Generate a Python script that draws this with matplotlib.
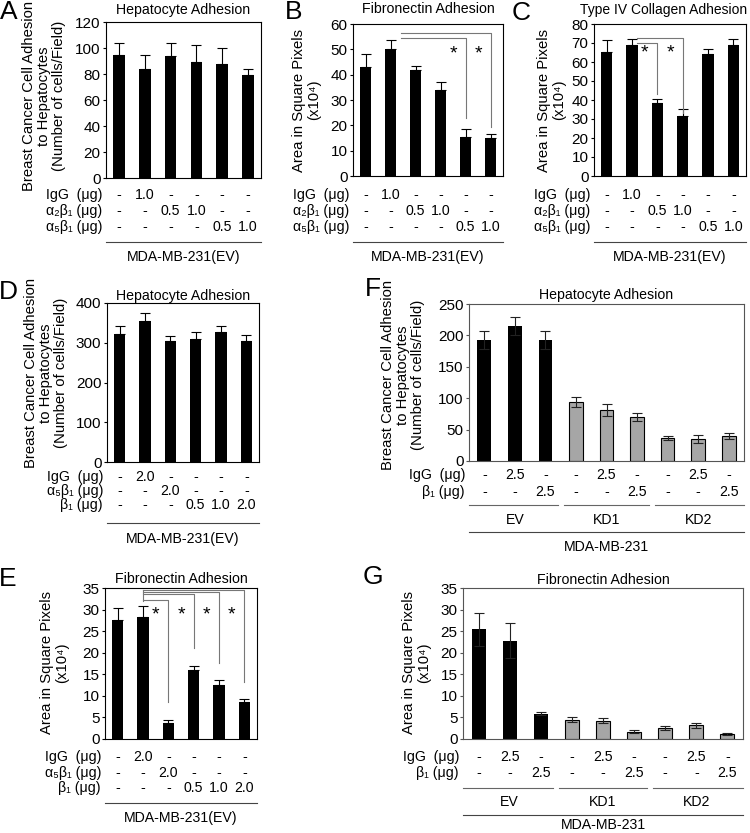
import numpy as np
import matplotlib
matplotlib.use('Agg')
import matplotlib.pyplot as plt
import matplotlib.transforms as mtrans
from matplotlib.lines import Line2D

plt.rcParams['font.family'] = ['Liberation Sans', 'DejaVu Sans']
FS = 10.2
W, H = 750, 833

# ---------------- data ----------------
# Panel A
a_vals = [95, 84, 94, 89, 88, 79]
a_err = [9, 11, 10, 13, 12, 5]
a_rows = ['IgG  (μg)', 'α₂β₁ (μg)', 'α₅β₁ (μg)']
a_igg = ['-', '1.0', '-', '-', '-', '-']
a_a2b1 = ['-', '-', '0.5', '1.0', '-', '-']
a_a5b1 = ['-', '-', '-', '-', '0.5', '1.0']

# Panel B
b_vals = [43, 50, 42, 34, 15.5, 15]
b_err = [5, 3.5, 1.5, 3, 3, 1.5]
b_sig = [(1, 4, 54.3, 23.0), (1, 5, 56.3, 19.4)]   # (from bar, to bar, level, end)
b_stars = [3.5, 4.5]

# Panel C
c_vals = [65.5, 69, 38.5, 31.5, 64, 69]
c_err = [6, 3, 2, 4, 3, 3]
c_sig = [(1, 2, 69.8, 43.0), (1, 3, 72.8, 33.0)]
c_stars = [1.5, 2.5]

# Panel D
d_vals = [322, 355, 305, 310, 328, 305]
d_err = [20, 20, 13, 16, 15, 15]
de_rows = ['IgG  (μg)', 'α₅β₁ (μg)', 'β₁ (μg)']
d_igg = ['-', '2.0', '-', '-', '-', '-']
d_a5b1 = ['-', '-', '2.0', '-', '-', '-']
d_b1 = ['-', '-', '-', '0.5', '1.0', '2.0']

# Panel E
e_vals = [27.5, 28.3, 3.8, 15.9, 12.5, 8.5]
e_err = [2.8, 2.5, 0.5, 1.1, 1.1, 0.7]
e_sig = [(1, 2, 32.2, 8.5), (1, 3, 33.5, 21.0), (1, 4, 34.0, 17.6), (1, 5, 34.6, 13.2)]
e_stars = [1.5, 2.5, 3.5, 4.5]

# Panel F
f_vals = [193, 215, 193, 94, 81, 70, 37, 35, 40]
f_err = [14, 15, 14, 8, 9, 7, 3, 6, 5]
fg_rows = ['IgG  (μg)', 'β₁ (μg)']
fg_igg = ['-', '2.5', '-'] * 3
fg_b1 = ['-', '-', '2.5'] * 3
fg_groups = ['EV', 'KD1', 'KD2']

# Panel G
g_vals = [25.4, 22.8, 5.9, 4.5, 4.2, 1.7, 2.6, 3.2, 1.1]
g_err = [3.8, 4.1, 0.4, 0.5, 0.6, 0.3, 0.5, 0.6, 0.2]

bar_colors_fg = ['black'] * 3 + ['#a6a6a6'] * 6

ylab_hep = 'Breast Cancer Cell Adhesion\nto Hepatocytes\n(Number of cells/Field)'
ylab_area = 'Area in Square Pixels\n(x10⁴)'

fig = plt.figure(figsize=(W / 100, H / 100), dpi=100)


def fy(y):
    return 1 - y / H


def panel(box, vals, errs, ylim, ystep, colors=None, twosided=False, spine='black'):
    l, t, r, b = box
    ax = fig.add_axes([l / W, 1 - b / H, (r - l) / W, (b - t) / H])
    n = len(vals)
    x = np.arange(n)
    if colors is None:
        colors = ['black'] * n
    edges = ['black' if c != 'black' else 'none' for c in colors]
    ax.bar(x, vals, width=0.45, color=colors, edgecolor=edges, linewidth=0.8, zorder=2)
    if twosided:
        ax.errorbar(x, vals, yerr=errs, fmt='none', ecolor='#222222', elinewidth=0.8,
                    capsize=3.5, capthick=0.8, zorder=3)
    else:
        ax.errorbar(x, vals, yerr=[np.zeros(n), errs], fmt='none', ecolor='black',
                    elinewidth=0.8, capsize=3.5, capthick=0.8, zorder=1)
    ax.set_xlim(-0.5, n - 0.5)
    ax.set_ylim(*ylim)
    ax.set_yticks(np.arange(ylim[0], ylim[1] + ystep / 2, ystep))
    ax.set_xticks([])
    ax.tick_params(axis='y', labelsize=FS + 0.8, length=2, pad=2, width=0.8, color=spine)
    for s in ax.spines.values():
        s.set_color(spine)
        s.set_linewidth(0.8)
    return ax


def rows(ax, box, labels, values, ys):
    l = box[0]
    tr = mtrans.blended_transform_factory(ax.transData, fig.transFigure)
    for lab, vals, y in zip(labels, values, ys):
        fig.text((l - 4) / W, fy(y), lab, ha='right', va='center', fontsize=FS)
        for i, v in enumerate(vals):
            ax.text(i, fy(y), v, transform=tr, ha='center', va='center', fontsize=FS)


def hline(x0, x1, y, color='#444444'):
    fig.add_artist(Line2D([x0 / W, x1 / W], [fy(y), fy(y)], color=color, lw=0.8))


def brackets(ax, sig, stars, ystar, start_off=0.4):
    for (i0, i1, lev, end) in sig:
        ax.plot([i0 + start_off, i1, i1], [lev, lev, end], color='#777777', lw=0.8, zorder=4)
    for s in stars:
        ax.text(s, ystar, '*', ha='center', va='center', fontsize=14, zorder=5)


def title(x, y, s, fs=FS):
    fig.text(x / W, fy(y), s, ha='center', va='center', fontsize=fs)


def ylabel(x, y, s):
    fig.text(x / W, fy(y), s, rotation=90, ha='center', va='center',
             multialignment='center', fontsize=FS + 0.5, linespacing=1.1)


def letter(x, y, s):
    fig.text(x / W, fy(y), s, ha='center', va='center', fontsize=19)


def group_label(box, y, s):
    fig.text((box[0] + box[2]) / 2 / W, fy(y), s, ha='center', va='center', fontsize=FS)


# ---------------- Panel A ----------------
boxA = (106, 22, 261, 178)
axA = panel(boxA, a_vals, a_err, (0, 120), 20)
rows(axA, boxA, a_rows, [a_igg, a_a2b1, a_a5b1], [195, 211, 227])
hline(boxA[0], boxA[2], 242)
group_label(boxA, 257, 'MDA-MB-231(EV)')
title(183, 10, 'Hepatocyte Adhesion')
ylabel(44, 96, ylab_hep)
letter(9, 12, 'A')

# ---------------- Panel B ----------------
boxB = (353, 24, 503, 176)
axB = panel(boxB, b_vals, b_err, (0, 60), 10)
brackets(axB, b_sig, b_stars, 48.0)
rows(axB, boxB, a_rows, [a_igg, a_a2b1, a_a5b1], [195, 211, 227])
hline(boxB[0], boxB[2], 242)
group_label(boxB, 257, 'MDA-MB-231(EV)')
title(428, 9, 'Fibronectin Adhesion')
ylabel(307, 100, ylab_area)
letter(294, 12, 'B')

# ---------------- Panel C ----------------
boxC = (594, 24, 746, 176)
axC = panel(boxC, c_vals, c_err, (0, 80), 10)
brackets(axC, c_sig, c_stars, 64.5, start_off=0.2)
rows(axC, boxC, a_rows, [a_igg, a_a2b1, a_a5b1], [195, 211, 227])
hline(boxC[0], boxC[2], 242)
group_label(boxC, 257, 'MDA-MB-231(EV)')
title(664, 10, 'Type IV Collagen Adhesion', fs=FS - 0.2)
ylabel(552, 100, ylab_area)
letter(521, 13, 'C')

# ---------------- Panel D ----------------
boxD = (107, 303, 259, 462)
axD = panel(boxD, d_vals, d_err, (0, 400), 100)
rows(axD, boxD, de_rows, [d_igg, d_a5b1, d_b1], [477, 491, 505])
hline(boxD[0], boxD[2], 523)
group_label(boxD, 539, 'MDA-MB-231(EV)')
title(183, 296, 'Hepatocyte Adhesion')
ylabel(46, 373, ylab_hep)
letter(8, 292, 'D')

# ---------------- Panel E ----------------
boxE = (105, 588, 257, 739)
axE = panel(boxE, e_vals, e_err, (0, 35), 5)
axE.plot([1, 1], [e_vals[1] + e_err[1] + 1.2, max(s[2] for s in e_sig)],
         color='#777777', lw=0.8, zorder=4)
brackets(axE, e_sig, e_stars, 28.8, start_off=0.0)
rows(axE, boxE, de_rows, [d_igg, d_a5b1, d_b1], [757, 773, 788])
hline(boxE[0], boxE[2], 803)
group_label(boxE, 818, 'MDA-MB-231(EV)')
title(181, 579, 'Fibronectin Adhesion')
ylabel(55, 663, ylab_area)
letter(8, 579, 'E')

# ---------------- Panel F ----------------
boxF = (469, 304, 744, 461)
axF = panel(boxF, f_vals, f_err, (0, 250), 50, colors=bar_colors_fg, twosided=True, spine='#555555')
rows(axF, boxF, fg_rows, [fg_igg, fg_b1], [475, 492])
trF = mtrans.blended_transform_factory(axF.transData, fig.transFigure)
for k, g in enumerate(fg_groups):
    x0, x1 = axF.transData.transform([(3 * k - 0.5, 0), (3 * k + 2.5, 0)])[:, 0]
    hline(x0 + (3 if k else 0), x1 - (3 if k < 2 else 0), 505, color='#666666')
    axF.text(3 * k + 1, fy(520), g, transform=trF, ha='center', va='center', fontsize=FS)
hline(boxF[0], boxF[2], 532)
group_label(boxF, 547, 'MDA-MB-231')
title(606, 295, 'Hepatocyte Adhesion')
ylabel(403, 375, ylab_hep)
letter(373, 289, 'F')

# ---------------- Panel G ----------------
boxG = (463, 588, 743, 739)
axG = panel(boxG, g_vals, g_err, (0, 35), 5, colors=bar_colors_fg, twosided=True, spine='#555555')
rows(axG, boxG, fg_rows, [fg_igg, fg_b1], [757, 773])
trG = mtrans.blended_transform_factory(axG.transData, fig.transFigure)
for k, g in enumerate(fg_groups):
    x0, x1 = axG.transData.transform([(3 * k - 0.5, 0), (3 * k + 2.5, 0)])[:, 0]
    hline(x0 + (3 if k else 0), x1 - (3 if k < 2 else 0), 788, color='#666666')
    axG.text(3 * k + 1, fy(802), g, transform=trG, ha='center', va='center', fontsize=FS)
hline(boxG[0], boxG[2], 815)
group_label(boxG, 825, 'MDA-MB-231')
title(603, 580, 'Fibronectin Adhesion')
ylabel(417, 663, ylab_area)
letter(373, 577, 'G')

fig.savefig('out.png', dpi=100)
